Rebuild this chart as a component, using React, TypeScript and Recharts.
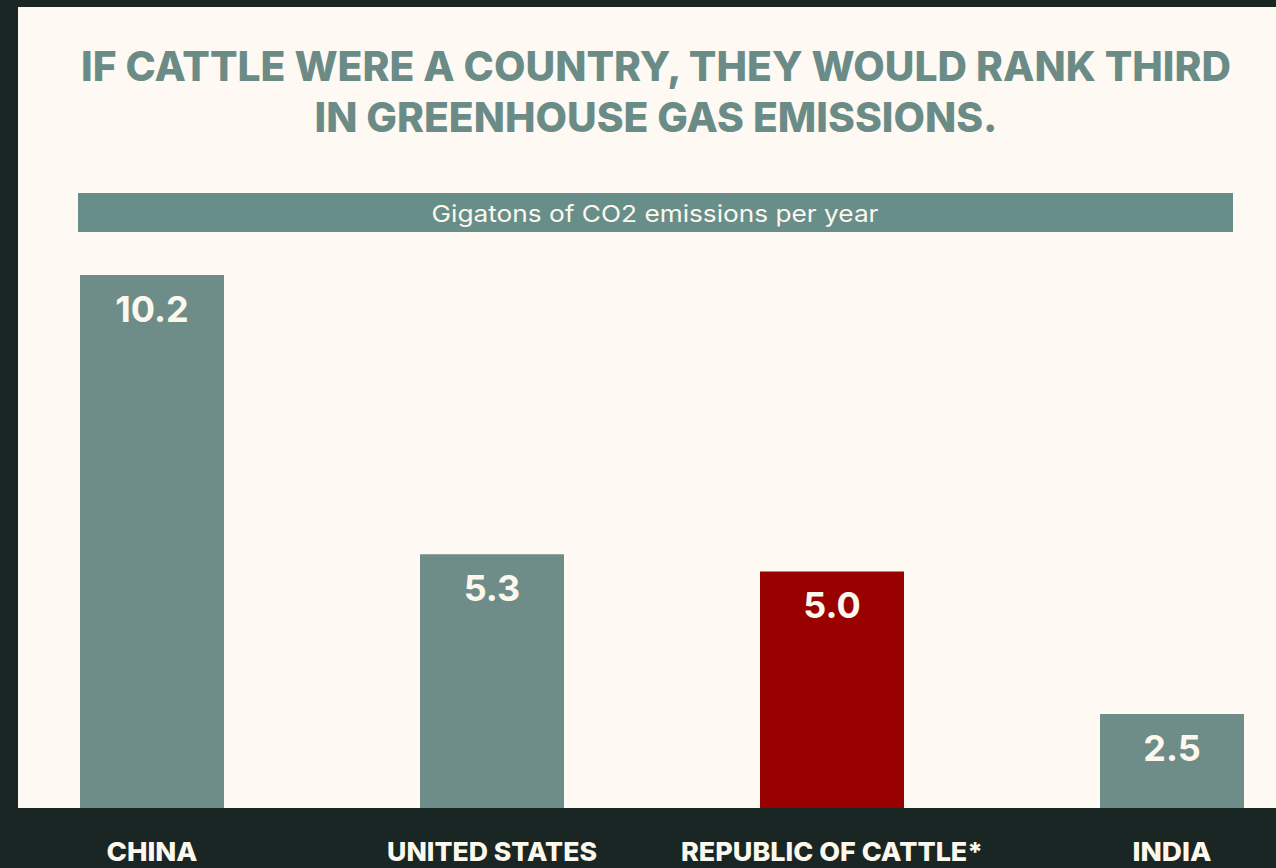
import React from 'react';
import { BarChart, Bar, XAxis, YAxis, Cell, LabelList } from 'recharts';

// Emission figures (gigatons CO2 per year)
const countries = ['CHINA', 'UNITED STATES', 'REPUBLIC OF CATTLE*', 'INDIA'];
const emissions = [10.2, 5.3, 5.0, 2.5];
const highlighted = ['REPUBLIC OF CATTLE*'];

const titleLines = [
  'IF CATTLE WERE A COUNTRY, THEY WOULD RANK THIRD',
  'IN GREENHOUSE GAS EMISSIONS.',
];
const unitLabel = 'Gigatons of CO2 emissions per year';

// Value axis starts above zero
const valueDomain: [number, number] = [0.85, 10.2];

const data = countries.map((name, i) => ({ name, value: emissions[i] }));

// Styling
const DARK = '#1a2624';
const CREAM = '#fefaf3';
const TEXT_LIGHT = '#fdf8ee';
const TEAL = '#6e8d89';
const BAND = '#688e89';
const TITLE = '#6b8b87';
const RED = '#990000';
const FONT = 'Inter, "Open Sans", sans-serif';

const titleWidths = [1150, 683];
const tickWidths: Record<string, number> = {
  CHINA: 91,
  'UNITED STATES': 210,
  'REPUBLIC OF CATTLE*': 302,
  INDIA: 79,
};

const CategoryTick = (props: any) => {
  const { x, payload } = props;
  const label = payload.value as string;
  return (
    <text
      x={x}
      y={861}
      textAnchor="middle"
      fill={TEXT_LIGHT}
      fontFamily={FONT}
      fontWeight={800}
      fontSize={26}
      textLength={tickWidths[label]}
      lengthAdjust="spacingAndGlyphs"
    >
      {label}
    </text>
  );
};

const ValueLabel = (props: any) => {
  const { x, y, width, value } = props;
  return (
    <text
      x={x + width / 2}
      y={y + 47}
      textAnchor="middle"
      fill={TEXT_LIGHT}
      fontFamily={FONT}
      fontWeight={700}
      fontSize={36}
    >
      {Number(value).toFixed(1)}
    </text>
  );
};

export default function App() {
  return (
    <div
      style={{
        position: 'absolute',
        left: 0,
        top: 0,
        width: 1276,
        height: 868,
        background: DARK,
        overflow: 'hidden',
      }}
    >
      <div
        style={{
          position: 'absolute',
          left: 18,
          top: 7,
          width: 1258,
          height: 801,
          background: CREAM,
        }}
      />
      <svg
        width={1276}
        height={868}
        style={{ position: 'absolute', left: 0, top: 0 }}
      >
        {titleLines.map((line, i) => (
          <text
            key={line}
            x={656}
            y={81 + i * 51}
            textAnchor="middle"
            fill={TITLE}
            fontFamily={FONT}
            fontWeight={800}
            fontSize={41}
            textLength={titleWidths[i]}
            lengthAdjust="spacingAndGlyphs"
          >
            {line}
          </text>
        ))}
        <rect x={78} y={193} width={1155} height={39} fill={BAND} />
        <text
          x={655}
          y={222}
          textAnchor="middle"
          fill={TEXT_LIGHT}
          fontFamily={FONT}
          fontWeight={400}
          fontSize={23}
          textLength={447}
          lengthAdjust="spacingAndGlyphs"
        >
          {unitLabel}
        </text>
      </svg>
      <div style={{ position: 'absolute', left: -18, top: 0 }}>
        <BarChart
          width={1360}
          height={868}
          data={data}
          margin={{ top: 275, right: 0, bottom: 0, left: 0 }}
        >
          <XAxis
            dataKey="name"
            height={60}
            axisLine={false}
            tickLine={false}
            interval={0}
            tick={<CategoryTick />}
          />
          <YAxis hide type="number" domain={valueDomain} allowDataOverflow />
          <Bar dataKey="value" barSize={144} isAnimationActive={false}>
            {data.map((d) => (
              <Cell key={d.name} fill={highlighted.includes(d.name) ? RED : TEAL} />
            ))}
            <LabelList dataKey="value" content={<ValueLabel />} />
          </Bar>
        </BarChart>
      </div>
    </div>
  );
}
